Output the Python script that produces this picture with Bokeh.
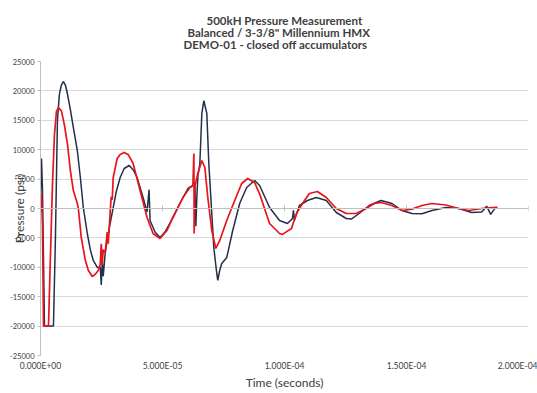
import numpy as np
from bokeh.plotting import figure
from bokeh.models import FixedTicker, Range1d, Span, Title
from bokeh.embed import file_html
from bokeh.resources import INLINE

title_lines = [
    "500kH Pressure Measurement",
    "Balanced / 3-3/8\" Millennium HMX",
    "DEMO-01 - closed off accumulators",
]
x_title = "Time (seconds)"
y_title = "Pressure (psi)"

x_ticks = [0.0, 5e-05, 1e-04, 1.5e-04, 2e-04]
x_tick_labels = ["0.000E+00", "5.000E-05", "1.000E-04", "1.500E-04", "2.000E-04"]
y_ticks = [-25000, -20000, -15000, -10000, -5000, 0, 5000, 10000, 15000, 20000, 25000]
y_tick_labels = ["-25000", "-20000", "-15000", "-10000", "-5000", "0",
                 "5000", "10000", "15000", "20000", "25000"]

# dark (navy/black) trace: time in microseconds, pressure in psi
black_t_us = [0.0, 0.41, 0.82, 1.63, 5.31, 6.12, 6.94, 7.76, 8.57, 9.39, 10.20, 11.02,
              12.24, 13.47, 15.10, 16.33, 17.55, 19.18, 20.41, 21.63, 23.27, 24.49, 24.90,
              25.31, 25.71, 26.53, 27.35, 28.57, 29.80, 31.02, 32.65, 34.29, 36.33, 37.96,
              39.59, 42.04, 43.67, 44.49, 44.90, 46.94, 48.98, 51.02, 53.06, 55.10,
              57.14, 60.41, 62.45, 63.27, 63.67, 64.08, 64.49, 65.31, 66.12, 66.94,
              68.16, 68.98, 70.20, 71.02, 72.24, 72.65, 73.47, 74.29, 76.33, 78.78,
              81.63, 84.49, 87.76, 89.80, 93.88, 97.96, 101.22, 103.27, 103.67, 104.08,
              106.12, 109.39, 113.06, 117.14, 121.22, 125.31, 127.35, 130.61, 134.69,
              139.59, 144.08, 148.16, 152.24, 156.33, 160.41, 166.12, 171.43, 176.73,
              180.82, 182.86, 184.49, 186.53, 186.94]
black_psi = [1000, 8500, 3000, -20000, -20000, -5000, 15000, 19500, 21000, 21600, 21000, 19550,
             16800, 13770, 9860, 5270, 170, -4250, -7000, -8840, -10030, -10000, -13000,
             -9000, -11500, -7500, -5440, -2500, 170, 2800, 5270, 6800, 7310, 6600,
             5270, 1870, -600, 3200, -2040, -4000, -4930, -4000, -2500, -800,
             850, 3400, 3910, 3900, -3000, 2000, 5500, 7650, 16150, 18360,
             16150, 7650, -850, -6630, -11050, -12240, -10500, -9350, -8330, -3740,
             850, 3570, 4760, 3910, 170, -2040, -2550, -1700, -300, -2000,
             510, 1360, 1870, 1360, -680, -1700, -1800, -850, 510,
             1360, 850, -340, -850, -900, -340, 170, 0, -680,
             -600, 400, -1000, 200, 200]

# red trace
red_t_us = [0.0, 0.2, 0.41, 0.82, 1.22, 3.27, 4.08, 4.90, 5.71, 6.53, 7.35, 8.57, 9.80, 11.02,
            12.24, 13.47, 15.10, 15.51, 16.73, 18.37, 19.59, 21.22, 22.45, 23.67,
            24.49, 24.90, 25.31, 25.71, 26.53, 27.35, 27.76, 28.57, 28.98, 29.39, 29.80,
            31.43, 32.65, 34.29, 35.92, 37.96, 40.82, 43.67, 46.12, 48.98, 51.84, 54.29,
            58.37, 61.22, 62.45, 62.86, 62.98, 63.27, 64.49, 66.12, 67.35, 68.57, 70.20,
            71.84, 73.47, 76.33, 79.59, 82.45, 84.90, 87.76, 89.80, 93.88, 97.96, 99.18,
            102.86, 104.90, 107.35, 110.20, 113.47, 117.14, 121.22, 125.31, 129.39,
            133.47, 136.73, 139.59, 144.08, 148.16, 152.24, 156.33, 160.41, 166.12,
            171.43, 175.51, 180.82, 184.90, 187.35]
red_psi = [1500, -500, 2500, -3000, -20000, -20000, -8000, 4000, 12500, 16500, 17170, 16600, 14200,
           11050, 6460, 3060, 850, 0, -5000, -8800, -10500, -11560, -11200, -10540,
           -9500, -6000, -9500, -7000, -7500, -4000, -6000, -500, 2000, 1500, 5270,
           8500, 9200, 9520, 9200, 7650, 3060, -1530, -4250, -5100, -3740, -1530,
           1870, 3570, 3910, 9350, -4250, 3800, 5950, 8160, 6970, 1870, -3740,
           -6800, -5440, -2040, 1360, 4250, 5100, 4420, 2500, -2550, -4250, -4400,
           -3400, -850, 850, 2550, 2890, 1870, 0, -850, -850,
           0, 850, 1020, 510, -340, -100, 510, 850, 600,
           0, -340, 0, 170, 170]

black_t = np.array(black_t_us) * 1e-6
red_t = np.array(red_t_us) * 1e-6

FONT = "Lato"
TXT = "#404040"
GRID = "#d9d9d9"
AXIS = "#bfbfbf"

p = figure(width=537, height=393,
           x_range=Range1d(0, 2e-4), y_range=Range1d(-25000, 25000),
           output_backend="svg", toolbar_location=None,
           min_border_left=40, min_border_right=9, min_border_top=61, min_border_bottom=38)
p.outline_line_color = None
p.background_fill_color = "white"
p.border_fill_color = "white"

# title: spacer nearest the plot, then the three lines (bottom line first),
# each left-anchored so that the block is centred over the whole chart
p.add_layout(Title(text=" ", text_font_size="1px", standoff=9), "above")
title_offsets = [166, 147, 143]
for line, off in zip(reversed(title_lines), reversed(title_offsets)):
    p.add_layout(Title(text=line, align="left", offset=off, text_font=FONT,
                       text_font_style="bold", text_font_size="11.5px", text_color=TXT,
                       standoff=-3), "above")

# grid
p.xgrid.grid_line_color = None
p.ygrid.grid_line_color = GRID
p.ygrid.ticker = FixedTicker(ticks=y_ticks)

# y axis
p.yaxis.ticker = FixedTicker(ticks=y_ticks)
p.yaxis.major_label_overrides = {t: l for t, l in zip(y_ticks, y_tick_labels)}
p.yaxis.axis_line_color = AXIS
p.yaxis.major_tick_line_color = AXIS
p.yaxis.major_tick_out = 3
p.yaxis.major_tick_in = 0
p.yaxis.minor_tick_line_color = None
p.yaxis.major_label_standoff = 3
p.yaxis.major_label_text_font = FONT
p.yaxis.major_label_text_font_size = "7.5px"
p.yaxis.major_label_text_color = TXT
p.yaxis.axis_label = y_title
p.yaxis.axis_label_text_font = FONT
p.yaxis.axis_label_text_font_style = "normal"
p.yaxis.axis_label_text_font_size = "12px"
p.yaxis.axis_label_text_color = TXT
p.yaxis.axis_label_standoff = -20

# x axis (labels at bottom)
p.xaxis.ticker = FixedTicker(ticks=x_ticks)
p.xaxis.major_label_overrides = {t: l for t, l in zip(x_ticks, x_tick_labels)}
p.xaxis.axis_line_color = None
p.xaxis.major_tick_line_color = None
p.xaxis.major_tick_out = 0
p.xaxis.major_tick_in = 0
p.xaxis.minor_tick_line_color = None
p.xaxis.major_label_standoff = 5
p.xaxis.major_label_text_font = FONT
p.xaxis.major_label_text_font_size = "8.5px"
p.xaxis.major_label_text_color = TXT
p.xaxis.axis_label = x_title
p.xaxis.axis_label_text_font = FONT
p.xaxis.axis_label_text_font_style = "normal"
p.xaxis.axis_label_text_font_size = "12px"
p.xaxis.axis_label_text_color = TXT
p.xaxis.axis_label_standoff = 1

# horizontal axis line crossing at zero, with tick marks
p.add_layout(Span(location=0, dimension="width", line_color=AXIS, line_width=1))
p.scatter(x_ticks, [0] * len(x_ticks), marker="dash", angle=np.pi / 2, size=6,
          line_color=AXIS, line_width=1)

# traces
p.line(black_t, black_psi, line_color="#22304a", line_width=1.5)
p.line(red_t, red_psi, line_color="#e8141c", line_width=1.7)

open("out.html", "w").write(file_html(p, INLINE))
